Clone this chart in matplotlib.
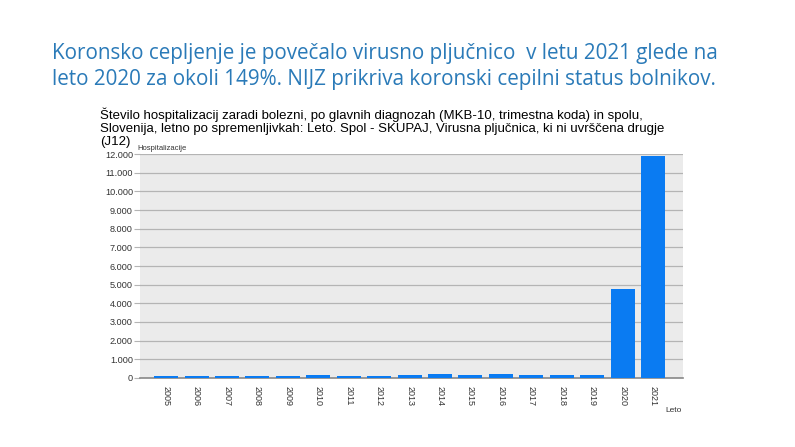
import numpy as np
import matplotlib.pyplot as plt
from matplotlib.ticker import FuncFormatter

years = ['2005', '2006', '2007', '2008', '2009', '2010', '2011', '2012', '2013',
         '2014', '2015', '2016', '2017', '2018', '2019', '2020', '2021']
hosp = [110, 90, 110, 110, 110, 150, 110, 110, 150,
        190, 150, 190, 150, 150, 140, 4780, 11900]
yticks = list(range(0, 12001, 1000))

fig = plt.figure(figsize=(7.95, 4.47), dpi=100)
ax = fig.add_axes([0.176, 0.1544, 0.683, 0.501])

# slide heading
fig.text(52 / 795, 1 - 54 / 447,
         'Koronsko cepljenje je povečalo virusno pljučnico  v letu 2021 glede na',
         fontsize=14.9, color='#2a7ab8', family='Open Sans', va='center')
fig.text(52 / 795, 1 - 80 / 447,
         'leto 2020 za okoli 149%. NIJZ prikriva koronski cepilni status bolnikov.',
         fontsize=14.9, color='#2a7ab8', family='Open Sans', va='center')

# chart title
fig.text(100 / 795, 1 - 108 / 447,
         'Število hospitalizacij zaradi bolezni, po glavnih diagnozah (MKB-10, trimestna koda) in spolu,\n'
         'Slovenija, letno po spremenljivkah: Leto. Spol - SKUPAJ, Virusna pljučnica, ki ni uvrščena drugje\n'
         '(J12)',
         fontsize=9.5, family='Liberation Sans', va='top', linespacing=1.1)

x = np.arange(len(years))
ax.set_facecolor('#ebebeb')
ax.bar(x, hosp, width=0.79, color='#0a7bf2', zorder=3)
ax.set_xlim(-0.86, len(years) - 0.02)
ax.set_ylim(0, 12000)
ax.set_yticks(yticks)
ax.yaxis.set_major_formatter(FuncFormatter(lambda v, p: f'{int(v):,}'.replace(',', '.')))
ax.grid(axis='y', color='#b4b4b4', linewidth=0.9, zorder=1)
ax.set_xticks(x)
ax.set_xticklabels(years, rotation=-90, fontsize=6.5, family='Liberation Sans', color='#333333')
ax.tick_params(axis='y', labelsize=6.6, colors='#333333', length=4, width=0.8, color='#b4b4b4', pad=1)
for lab in ax.get_yticklabels():
    lab.set_family('Liberation Sans')
ax.tick_params(axis='x', length=0, pad=6)
for s in ['top', 'right', 'left']:
    ax.spines[s].set_visible(False)
ax.spines['bottom'].set_color('#888888')
ax.spines['bottom'].set_linewidth(1.2)

fig.text(137 / 795, 1 - 149 / 447, 'Hospitalizacije', fontsize=5.5,
         family='Liberation Sans', color='#333333', va='center')
fig.text(682 / 795, 1 - 411 / 447, 'Leto', fontsize=6,
         family='Liberation Sans', color='#333333', va='center', ha='right')

fig.savefig('out.png', dpi=100)
